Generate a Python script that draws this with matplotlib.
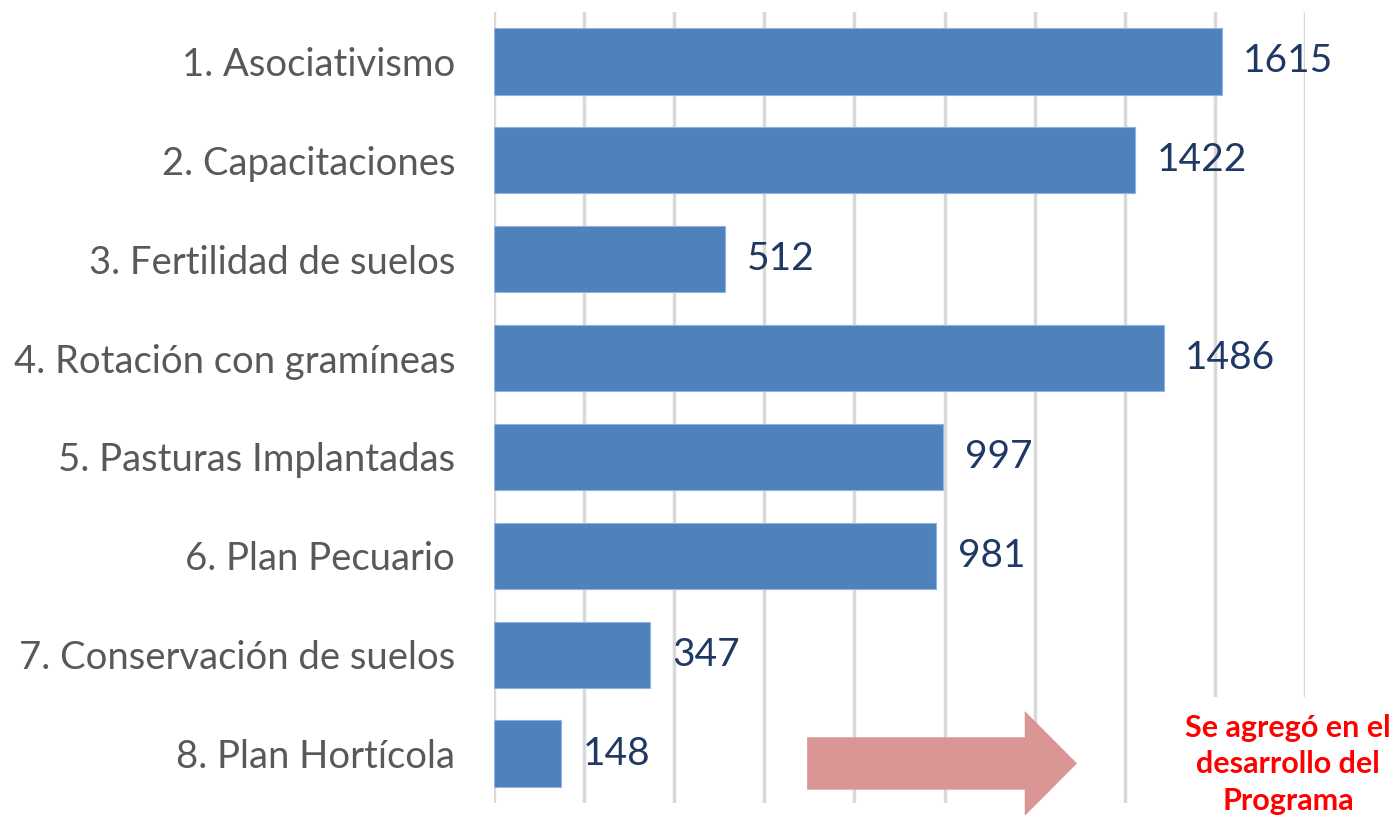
import matplotlib.pyplot as plt
from matplotlib.patches import FancyArrow

# Data
categories = ["1. Asociativismo", "2. Capacitaciones", "3. Fertilidad de suelos",
              "4. Rotación con gramíneas", "5. Pasturas Implantadas", "6. Plan Pecuario",
              "7. Conservación de suelos", "8. Plan Hortícola"]
values = [1615, 1422, 512, 1486, 997, 981, 347, 148]
note = "Se agregó en el\ndesarrollo del\nPrograma"

plt.rcParams['font.family'] = ['Lato', 'DejaVu Sans']

fig = plt.figure(figsize=(13.89, 8.15), dpi=100)
ax = fig.add_axes([494 / 1389, 1 - 803 / 815, 811 / 1389, 791 / 815])

ypos = list(range(len(categories)))
ax.barh(ypos, values, height=0.67, color="#4F81BD", edgecolor="#8EB4E3",
        linewidth=0.8, zorder=3)

for y, v in zip(ypos, values):
    ax.text(v + 48, y, str(v), va="center", ha="left", fontsize=28,
            color="#1F3864", zorder=4)

ax.set_xlim(0, 1800)
ax.set_ylim(len(categories) - 0.5, -0.5)
ax.set_xticks(range(0, 1801, 200))
ax.set_yticks(ypos)
ax.set_yticklabels(categories, fontsize=27.5, color="#595959")
ax.tick_params(axis="x", length=0, labelbottom=False)
ax.tick_params(axis="y", length=0, pad=28)
ax.grid(axis="x", color="#D9D9D9", linewidth=2.5, zorder=0)
for s in ax.spines.values():
    s.set_visible(False)

# arrow pointing to the note
arrow = FancyArrow(695, 7.10, 483, 0, width=0.53, head_width=1.06,
                   head_length=116, length_includes_head=False,
                   color="#D99694", linewidth=0, zorder=5, clip_on=False)
ax.add_patch(arrow)

ax.text(1762, 7.11, note, ha="center", va="center", fontsize=22,
        fontweight="bold", color="#FF0000", linespacing=1.38, zorder=6,
        clip_on=False,
        bbox=dict(facecolor="white", edgecolor="none", pad=12))

fig.savefig("out.png", dpi=100)
